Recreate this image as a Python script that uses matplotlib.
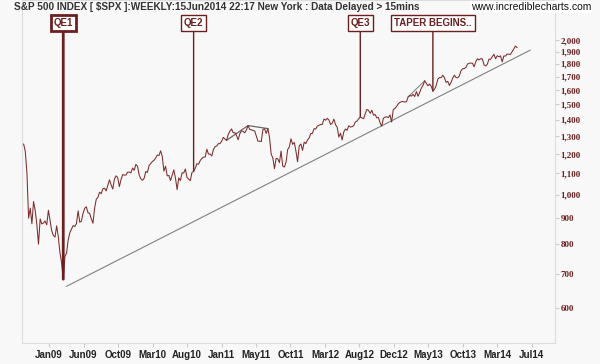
import numpy as np
import matplotlib
matplotlib.use("Agg")
import matplotlib.pyplot as plt
from matplotlib.ticker import FixedLocator, NullLocator

# weekly closes, S&P 500, from 12 Sep 2008 to 13 Jun 2014
c2008 = [1251.7, 1255.1, 1213.3, 1099.2, 899.2, 940.6, 876.8, 968.8, 931.0, 873.3,
         800.0, 896.2, 876.1, 879.7, 887.9, 872.8]
c2009 = [931.8, 890.4, 850.1, 832.0, 825.9, 868.6, 826.8, 770.1, 735.1, 683.4,
         756.6, 768.5, 815.9, 842.5, 856.6, 869.6, 866.2, 877.5, 929.2, 882.9,
         887.0, 919.1, 940.1, 946.2, 921.2, 918.9, 896.4, 879.1, 940.4, 979.3,
         987.5, 1010.5, 1004.1, 1026.1, 1028.9, 1016.4, 1042.7, 1068.3, 1044.4, 1025.2,
         1071.5, 1087.7, 1079.6, 1036.2, 1069.3, 1093.5, 1091.4, 1091.5, 1106.0, 1106.4,
         1102.5, 1126.5, 1115.1]
c2010 = [1145.0, 1136.0, 1091.8, 1073.9, 1066.2, 1075.5, 1109.2, 1104.5, 1138.7, 1150.0,
         1159.9, 1166.6, 1178.1, 1194.4, 1192.1, 1217.3, 1186.7, 1110.9, 1135.7, 1087.7,
         1089.4, 1064.9, 1091.6, 1117.5, 1076.8, 1022.6, 1078.0, 1064.9, 1102.7, 1101.6,
         1121.6, 1079.3, 1071.7, 1064.6, 1104.5, 1109.6, 1125.6, 1148.7, 1146.2, 1165.2,
         1176.2, 1183.1, 1183.3, 1225.9, 1199.2, 1199.7, 1189.4, 1224.7, 1240.4, 1243.9,
         1256.8, 1257.6]
c2011 = [1271.5, 1293.2, 1283.4, 1276.3, 1310.9, 1329.2, 1343.0, 1319.9, 1321.2, 1304.3,
         1279.2, 1313.8, 1332.4, 1328.2, 1319.7, 1337.4, 1363.6, 1340.2, 1337.8, 1333.3,
         1331.1, 1300.2, 1271.0, 1271.5, 1268.5, 1339.7, 1343.8, 1316.1, 1345.0, 1292.3,
         1199.4, 1178.8, 1123.5, 1176.8, 1174.0, 1154.2, 1216.0, 1136.4, 1131.4, 1155.5,
         1224.6, 1238.3, 1285.1, 1253.2, 1263.9, 1215.7, 1158.7, 1244.3, 1255.2, 1219.7,
         1265.3, 1257.6]
c2012 = [1277.8, 1289.1, 1315.4, 1316.3, 1344.9, 1342.6, 1361.2, 1365.7, 1370.0, 1370.9,
         1404.2, 1397.1, 1408.5, 1398.1, 1370.3, 1378.5, 1403.4, 1369.1, 1353.4, 1295.2,
         1317.8, 1278.0, 1325.7, 1342.8, 1335.0, 1362.2, 1354.7, 1356.8, 1362.7, 1386.0,
         1391.0, 1405.9, 1418.2, 1411.1, 1406.6, 1437.9, 1465.8, 1460.2, 1440.7, 1460.9,
         1428.6, 1433.2, 1411.9, 1414.2, 1379.9, 1359.9, 1409.2, 1416.2, 1418.1, 1413.6,
         1430.2, 1385.6]
c2013 = [1466.5, 1472.1, 1486.0, 1503.0, 1513.2, 1517.9, 1519.8, 1515.6, 1518.2, 1551.2,
         1560.7, 1556.9, 1569.2, 1553.3, 1588.9, 1555.3, 1582.2, 1614.4, 1633.7, 1667.5,
         1649.6, 1630.7, 1643.4, 1626.7, 1592.4, 1606.3, 1631.9, 1680.2, 1692.1, 1691.7,
         1709.7, 1691.4, 1655.8, 1663.5, 1633.0, 1655.2, 1688.0, 1709.9, 1691.8, 1690.5,
         1703.2, 1744.5, 1759.8, 1761.6, 1770.6, 1798.2, 1804.8, 1805.8, 1805.1, 1775.3,
         1818.3, 1841.4]
c2014 = [1831.4, 1842.4, 1838.7, 1790.3, 1782.6, 1797.0, 1838.6, 1836.3, 1859.5, 1878.0,
         1841.1, 1866.5, 1857.6, 1865.1, 1815.7, 1864.9, 1863.4, 1881.1, 1878.5, 1877.9,
         1900.5, 1923.6, 1949.4, 1936.2]

closes = np.array(c2008 + c2009 + c2010 + c2011 + c2012 + c2013 + c2014)
weeks = np.arange(len(closes))

xtick_labels = ["Jan09", "Jun09", "Oct09", "Mar10", "Aug10", "Jan11", "May11", "Oct11",
                "Mar12", "Aug12", "Dec12", "May13", "Oct13", "Mar14", "Jul14"]
ytick_vals = [600, 700, 800, 900, 1000, 1100, 1200, 1300, 1400, 1500, 1600, 1700, 1800, 1900, 2000]

# annotations: label, week index
notes = [("QE1", 25), ("QE2", 104), ("QE3", 205), ("TAPER BEGINS..", 249)]

# support trend line and the small lines joining highs
trend_weeks = [27, 308]
trend_vals = [662, 1914]
top_weeks = [124, 137, 149]
top2_weeks = [234, 244]

red = "#6b1f1f"
bg = "#f8f8f8"

fig = plt.figure(figsize=(6, 3.64), dpi=100, facecolor=bg)
ax = fig.add_axes([22/600, 21/364, (555-22)/600, 343/364])
ax.set_facecolor(bg)
ax.set_yscale("log")
ax.set_xlim(0, 323)
ax.set_ylim(513, 2398)

ax.plot(trend_weeks, trend_vals, color="#808080", lw=0.8)
ax.plot(top_weeks, closes[top_weeks], color="#666666", lw=0.9)
ax.plot(top2_weeks, closes[top2_weeks], color="#888888", lw=0.8)
ax.plot(weeks, closes, color="#7d2c2c", lw=0.75)

for label, wk in notes:
    thick = 2.0 if label == "QE1" else 1.0
    ax.annotate(label, xy=(wk, closes[wk]), xycoords="data",
                xytext=(wk, 0.933), textcoords=("data", "axes fraction"),
                ha="center", va="center", fontsize=7, fontweight="bold", color=red,
                family="Liberation Sans",
                bbox=dict(boxstyle="square,pad=0.3", fc="white", ec=red, lw=thick),
                arrowprops=dict(arrowstyle="-", color=red, lw=thick, shrinkA=0, shrinkB=0))

for s in ["left", "bottom", "right", "top"]:
    ax.spines[s].set_color("#dddddd")
    ax.spines[s].set_linewidth(0.8)

ax.yaxis.tick_right()
ax.yaxis.set_major_locator(FixedLocator(ytick_vals))
ax.yaxis.set_minor_locator(NullLocator())
ax.set_yticklabels([f"{v:,}" for v in ytick_vals])
ax.tick_params(axis="y", which="major", length=3, width=0.8, color="#cccccc", pad=1,
               labelsize=6.5, labelcolor=red)
for t in ax.get_yticklabels():
    t.set_family("Liberation Serif")
    t.set_fontweight("bold")

xtick_pos = 16.4 + 20.9 * np.arange(len(xtick_labels))
ax.set_xticks(xtick_pos)
ax.set_xticklabels(xtick_labels)
ax.tick_params(axis="x", length=3, width=0.8, color="#cccccc", pad=2,
               labelsize=7, labelcolor="#222222")
for t in ax.get_xticklabels():
    t.set_family("Liberation Sans")
    t.set_fontweight("bold")

fig.text(14/600, 1 - 7/364, "S&P 500 INDEX [ $SPX ]:WEEKLY:15Jun2014 22:17 New York : Data Delayed > 15mins",
         fontsize=7.2, fontweight="bold", color="#333333", family="Liberation Sans",
         ha="left", va="center")
fig.text(591/600, 1 - 7/364, "www.incrediblecharts.com", fontsize=7.5, color="#111111",
         family="Liberation Sans", ha="right", va="center",
         bbox=dict(boxstyle="square,pad=0.1", fc="white", ec="none"))

fig.savefig("out.png", dpi=100, facecolor=bg)
